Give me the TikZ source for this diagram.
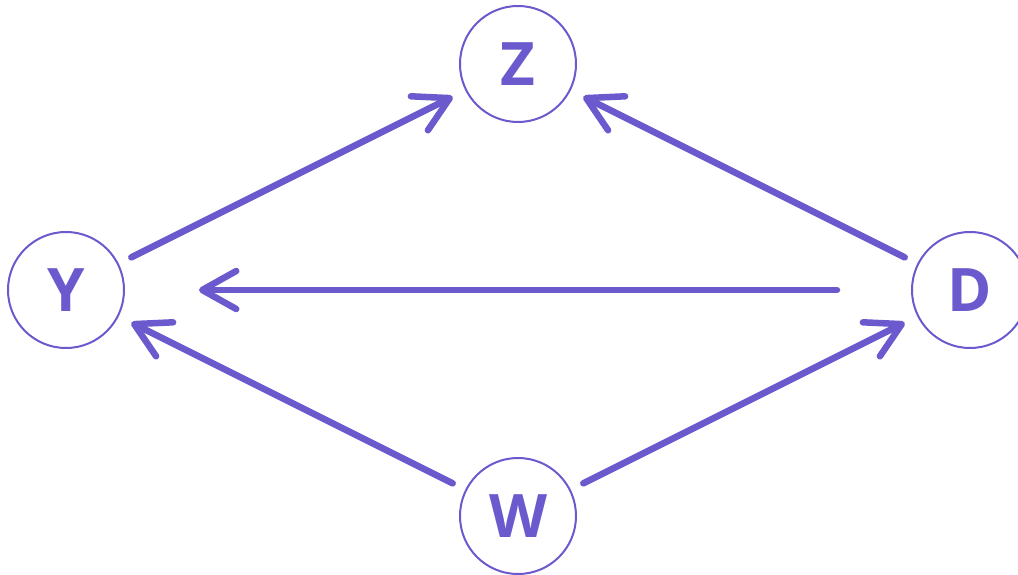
\documentclass[tikz,border=0pt]{standalone}
\usepackage{fontspec}
\setmainfont{Open Sans}
\usetikzlibrary{arrows.meta}
\definecolor{slate}{HTML}{6A5ACD}
\begin{document}
\begin{tikzpicture}[x=1pt,y=-1pt,
    var/.style={circle,draw=slate,line width=2pt,minimum size=116pt,inner sep=0pt,
      outer sep=15pt,text=slate,font=\fontsize{60}{60}\selectfont\bfseries},
    edge/.style={slate,line width=6.5pt,line cap=round,
      -{Straight Barb[length=34pt,width=38pt,line width=6.5pt,line cap=round,line join=round]}}]
  \useasboundingbox (0,0) rectangle (1018,575);
  \node[var] (z) at (518,64) {Z};
  \node[var] (y) at (66,290) {Y};
  \node[var] (d) at (970,290) {D};
  \node[var] (w) at (518,516) {W};
  \draw[edge] (y) -- (z);
  \draw[edge] (d) -- (z);
  \draw[edge,shorten <=60pt,shorten >=60pt] (d) -- (y);
  \draw[edge] (w) -- (y);
  \draw[edge] (w) -- (d);
\end{tikzpicture}
\end{document}
